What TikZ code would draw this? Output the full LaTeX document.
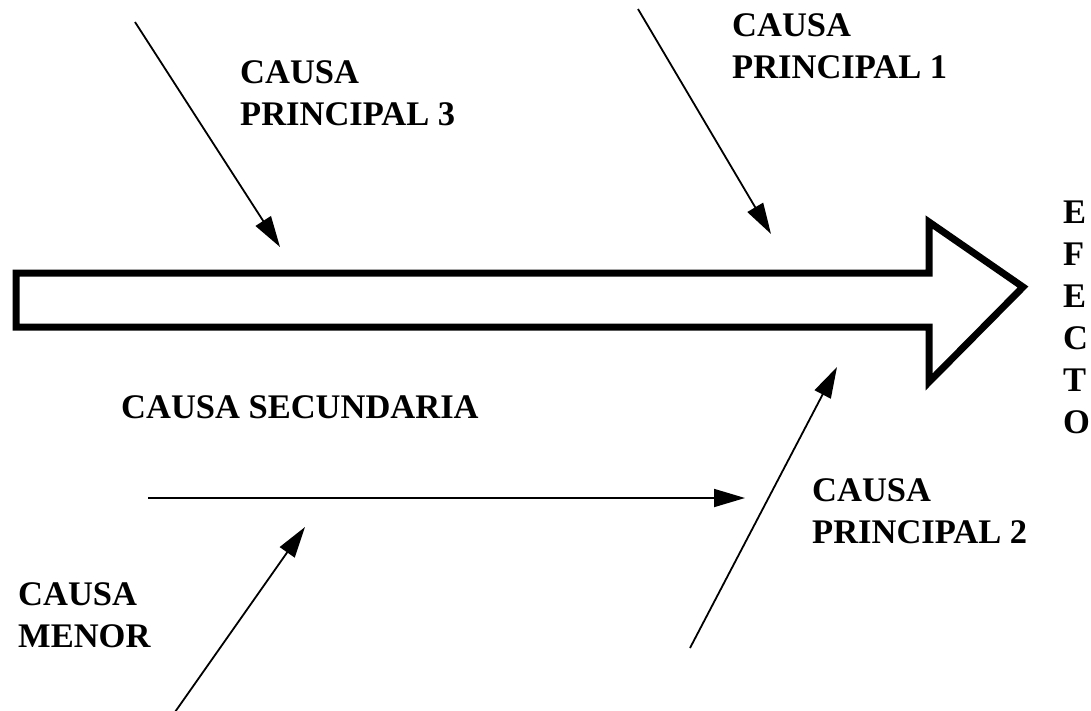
\documentclass[tikz,border=0pt]{standalone}
\usepackage{fontspec}
\setmainfont{Liberation Serif}
\usetikzlibrary{arrows.meta}

\tikzset{
  % multi-line labels are placed by the baseline of their last line
  label text/.style={inner sep=0pt, anchor=base west, align=left,
    font=\fontsize{34.5}{42}\selectfont\bfseries},
  cause arrow/.style={line width=1.8pt,
    -{Triangle[length=31pt,width=18pt]}},
  spine/.style={line width=7pt, line join=miter, miter limit=10}
}

\begin{document}
\begin{tikzpicture}[x=1pt,y=-1pt]
  \useasboundingbox (0,0) rectangle (1091,710);

  % main spine: hollow block arrow pointing to the effect
  \coordinate (tail top) at (16,273);
  \coordinate (tail bottom) at (16,327);
  \coordinate (neck top) at (929,273);
  \coordinate (neck bottom) at (929,327);
  \coordinate (barb top) at (929,222);
  \coordinate (barb bottom) at (929,382);
  \coordinate (tip) at (1023,287);
  \draw[spine] (tail top) -- (neck top) -- (barb top) -- (tip)
    -- (barb bottom) -- (neck bottom) -- (tail bottom) -- cycle;

  % effect, set as a vertical column of letters
  \node[label text] (efecto) at (1063,433) {E\\F\\E\\C\\T\\O};

  % main causes
  \coordinate (c1 start) at (638,9);
  \coordinate (c1 end) at (771,234);
  \draw[cause arrow] (c1 start) -- (c1 end);
  \node[label text] (c1) at (732,78) {CAUSA\\PRINCIPAL 1};

  \coordinate (c3 start) at (135,22);
  \coordinate (c3 end) at (280,247);
  \draw[cause arrow] (c3 start) -- (c3 end);
  \node[label text] (c3) at (240,125) {CAUSA\\PRINCIPAL 3};

  \coordinate (c2 start) at (690,648);
  \coordinate (c2 end) at (837,367);
  \draw[cause arrow] (c2 start) -- (c2 end);
  \node[label text] (c2) at (812,543) {CAUSA\\PRINCIPAL 2};

  % secondary cause and the minor cause feeding it
  \coordinate (sec start) at (148,498);
  \coordinate (sec end) at (745,498);
  \draw[cause arrow] (sec start) -- (sec end);
  \node[label text] (sec) at (121,418) {CAUSA SECUNDARIA};

  \coordinate (min start) at (175,712);
  \coordinate (min end) at (305,527);
  \draw[cause arrow] (min start) -- (min end);
  \node[label text] (menor) at (18,647) {CAUSA\\MENOR};
\end{tikzpicture}
\end{document}
